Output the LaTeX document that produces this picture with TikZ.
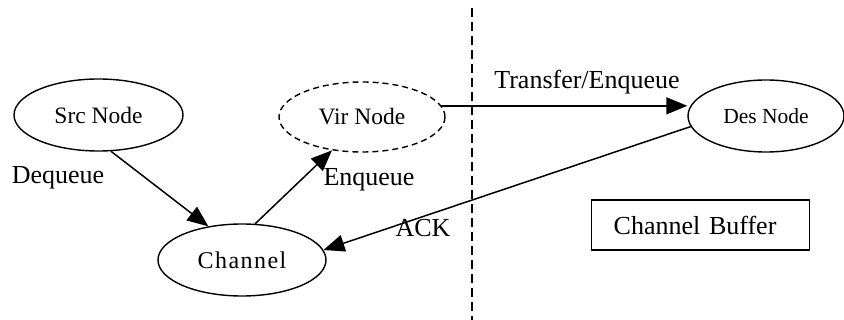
\documentclass[tikz,border=0pt]{standalone}
\usepackage{fontspec}
\setmainfont{Liberation Serif}
\usetikzlibrary{shapes.geometric,arrows.meta}

\tikzset{
  state/.style={ellipse, draw, line width=1.4pt, inner sep=0pt},
  virtual/.style={state, dash pattern=on 6pt off 4pt},
  link/.style={line width=1.5pt, -{Triangle[length=21pt 0,width=17pt 0]}},
  lbl/.style={font=\fontsize{26}{28}\selectfont, inner sep=0pt},
  divider/.style={line width=1.4pt, dash pattern=on 9pt off 5pt},
}

\begin{document}
\begin{tikzpicture}[x=1pt,y=-1pt]
  \useasboundingbox (0,0) rectangle (844,320);

  % nodes of the data path
  \node[state, minimum width=169pt, minimum height=72pt,
        font=\fontsize{23.5}{26}\selectfont] (src) at (98.5,115) {Src Node};
  \node[virtual, minimum width=166pt, minimum height=70pt,
        font=\fontsize{23.5}{26}\selectfont] (vir) at (362,117) {Vir Node};
  \node[state, minimum width=168pt, minimum height=72pt,
        font=\fontsize{24}{26}\selectfont\addfontfeature{LetterSpace=6}] (chan) at (242,260) {Channel};
  \node[state, minimum width=156pt, minimum height=72pt,
        font=\fontsize{21.5}{24}\selectfont] (des) at (766,116) {Des Node};

  % buffer legend
  \node[draw, line width=1.4pt, anchor=west, minimum height=50pt,
        inner xsep=22pt, text width=174pt, align=left,
        font=\fontsize{26}{28}\selectfont] (buf) at (591,225) {Channel Buffer};

  % boundary between the two sides
  \coordinate (dtop) at (472,8);
  \coordinate (dbot) at (472,320);
  \draw[divider] (dtop) -- (dbot);

  % transitions
  \draw[link] (src.-71) -- (chan.135);
  \draw[link] (chan.70) -- (vir.-132);
  \draw[link] (vir.8) -- (vir.8 -| des.west);
  \draw[link] (des.-172) -- (chan.7);

  % transition labels
  \node[lbl] (ldeq) at (58,178) {Dequeue};
  \node[lbl] (lenq) at (369,180) {Enqueue};
  \node[lbl] (ltr) at (587,82) {Transfer/Enqueue};
  \node[lbl] (lack) at (423,228) {ACK};
\end{tikzpicture}
\end{document}
